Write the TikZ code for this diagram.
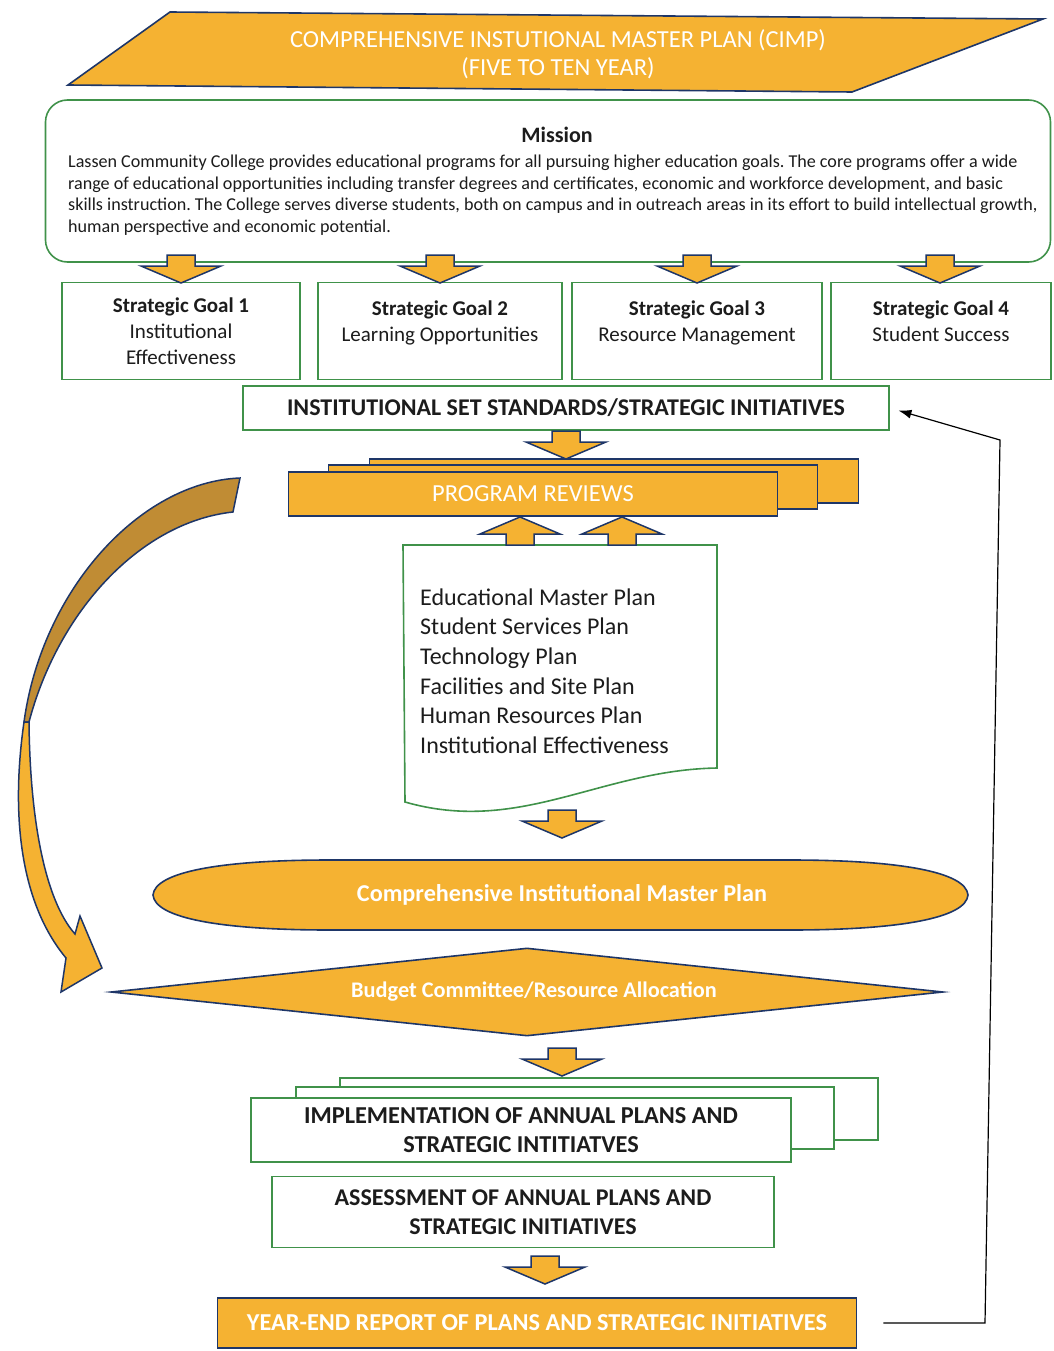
\documentclass[tikz,border=0pt]{standalone}
\usepackage{fontspec}
\setmainfont{Carlito}
\usetikzlibrary{arrows, arrows.meta, positioning, shapes.geometric}

\definecolor{planorange}{RGB}{245,178,50}
\definecolor{planbrown}{RGB}{192,140,52}
\definecolor{planblue}{RGB}{30,54,104}
\definecolor{plangreen}{RGB}{64,146,74}
\definecolor{plantext}{RGB}{28,28,28}

\tikzset{
  blockdown/.pic={\draw[blockarrow] (-14,0) -- (14,0) -- (14,11) -- (40,11) -- (0,28) -- (-40,11) -- (-14,11) -- cycle;}
}

\begin{document}
\frenchspacing
\begin{tikzpicture}[x=1pt, y=-1pt, >=stealth', on grid]
  \tikzstyle{orangebox}=[fill=planorange, draw=planblue, line width=1.6pt, text=white]
  \tikzstyle{greenbox}=[fill=white, draw=plangreen, line width=1.6pt, text=plantext]
  \tikzstyle{blockarrow}=[fill=planorange, draw=planblue, line width=1.5pt]
  \tikzstyle{goal}=[greenbox, minimum height=97pt, inner sep=0, align=center, font=\fontsize{21}{26}\selectfont]
  \tikzstyle{review}=[orangebox, minimum width=489pt, minimum height=44pt, inner sep=0]
  \tikzstyle{annual}=[greenbox, minimum width=538pt, minimum height=62pt, inner sep=0, align=center]

  \useasboundingbox (0,0) rectangle (1053,1351);

  \draw[orangebox] (170,12) -- (1043,19) -- (852,92) -- (68,85) -- cycle;
  \node[text=white, align=center, font=\fontsize{24.5}{28}\selectfont] (cimp) at (558,54) {COMPREHENSIVE INSTUTIONAL MASTER PLAN (CIMP)\\(FIVE TO TEN YEAR)};

  \node[greenbox, rounded corners=22pt, minimum width=1005pt, minimum height=162pt] (mission) at (548,181) {};
  \node[text=plantext, font=\bfseries\fontsize{22}{25}\selectfont] (missiontitle) at (557,135) {Mission};
  \node[text=plantext, anchor=west, align=left, inner sep=0, font=\fontsize{18.1}{21.5}\selectfont] (missiontext) at (68,195) {Lassen Community College provides educational programs for all pursuing higher education goals. The core programs offer a wide\\range of educational opportunities including transfer degrees and certificates, economic and workforce development, and basic\\skills instruction. The College serves diverse students, both on campus and in outreach areas in its effort to build intellectual growth,\\human perspective and economic potential.};

  \node[goal, minimum width=238pt] (goal1) at (181,331) {\textbf{Strategic Goal 1}\\Institutional\\Effectiveness};
  \node[goal, minimum width=244pt, right=259pt of goal1] (goal2) {\textbf{Strategic Goal 2}\\Learning Opportunities\\[-14pt]\strut};
  \node[goal, minimum width=250pt, right=257pt of goal2] (goal3) {\textbf{Strategic Goal 3}\\Resource Management\\[-14pt]\strut};
  \node[goal, minimum width=220pt, right=244pt of goal3] (goal4) {\textbf{Strategic Goal 4}\\Student Success\\[-14pt]\strut};
  \foreach \x in {181,440,697,940}
    \pic at (\x,255) {blockdown};

  \node[greenbox, minimum width=646pt, minimum height=44pt, font=\bfseries\fontsize{24}{28}\selectfont] (iss) at (566,408) {INSTITUTIONAL SET STANDARDS/STRATEGIC INITIATIVES};
  \pic at (566,431) {blockdown};

  \node[review] (review3) at (614,481) {};
  \node[review] (review2) at (573,487) {};
  \node[review, font=\fontsize{24.5}{28}\selectfont] (review1) at (533,494) {PROGRAM REVIEWS};

  \draw[greenbox] (403,545) -- (717,545) -- (717,768) .. controls (600,770) and (520,835) .. (405,802) -- cycle;
  \node[text=plantext, anchor=west, align=left, inner sep=0, font=\fontsize{24}{29.6}\selectfont] (plans) at (420,671) {Educational Master Plan\\Student Services Plan\\Technology Plan\\Facilities and Site Plan\\Human Resources Plan\\Institutional Effectiveness};
  \pic[rotate=180] at (520,545) {blockdown};
  \pic[rotate=180] at (622,545) {blockdown};
  \pic at (562,810) {blockdown};

  \draw[orangebox] (153,895) .. controls (155,872) and (220,860) .. (330,860) -- (790,860) .. controls (900,860) and (966,872) .. (968,895) .. controls (966,918) and (900,930) .. (790,930) -- (330,930) .. controls (220,930) and (155,918) .. (153,895) -- cycle;
  \node[text=white, font=\bfseries\fontsize{24.2}{28}\selectfont] (cimpplan) at (562,895) {Comprehensive Institutional Master Plan};

  \node[diamond, orangebox, shape aspect=9.5, minimum width=832pt, minimum height=88pt, inner sep=0, font=\bfseries\fontsize{22.3}{26}\selectfont] (budget) at (527,992) {\hspace*{14pt}Budget Committee/Resource Allocation};

  \draw[blockarrow, fill=planbrown] (240,478) .. controls (140,482) and (42,590) .. (24,722) -- (29,722) .. controls (58,612) and (140,522) .. (233,512) -- cycle;
  \draw[blockarrow] (24,722) .. controls (10,820) and (22,905) .. (66,958) -- (61,992) -- (102,968) -- (80,916) -- (75,934) .. controls (45,900) and (30,820) .. (29,722) -- cycle;

  \pic at (562,1048) {blockdown};
  \node[annual] (annual3) at (609,1109) {};
  \node[annual] (annual2) at (565,1118) {};
  \node[annual, minimum width=540pt, minimum height=64pt, font=\bfseries\fontsize{24.3}{29}\selectfont] (annual1) at (521,1130) {IMPLEMENTATION OF ANNUAL PLANS AND\\STRATEGIC INTITIATVES};
  \node[greenbox, minimum width=502pt, minimum height=71pt, align=center, font=\bfseries\fontsize{24}{29}\selectfont] (assess) at (523,1212) {ASSESSMENT OF ANNUAL PLANS AND\\STRATEGIC INITIATIVES};
  \pic at (545,1256) {blockdown};

  \node[orangebox, minimum width=639pt, minimum height=50pt, font=\bfseries\fontsize{24.3}{28}\selectfont] (yearend) at (537,1323) {YEAR-END REPORT OF PLANS AND STRATEGIC INITIATIVES};

  \coordinate (loopbottom) at (985,1323);
  \coordinate (looptop) at (1000,440);
  \draw[-{Latex[length=13pt, width=9pt]}, line width=1.2pt, shorten <=26pt, shorten >=9pt] (yearend.east) -- (loopbottom) -- (looptop) -- (iss.east);
\end{tikzpicture}
\end{document}
